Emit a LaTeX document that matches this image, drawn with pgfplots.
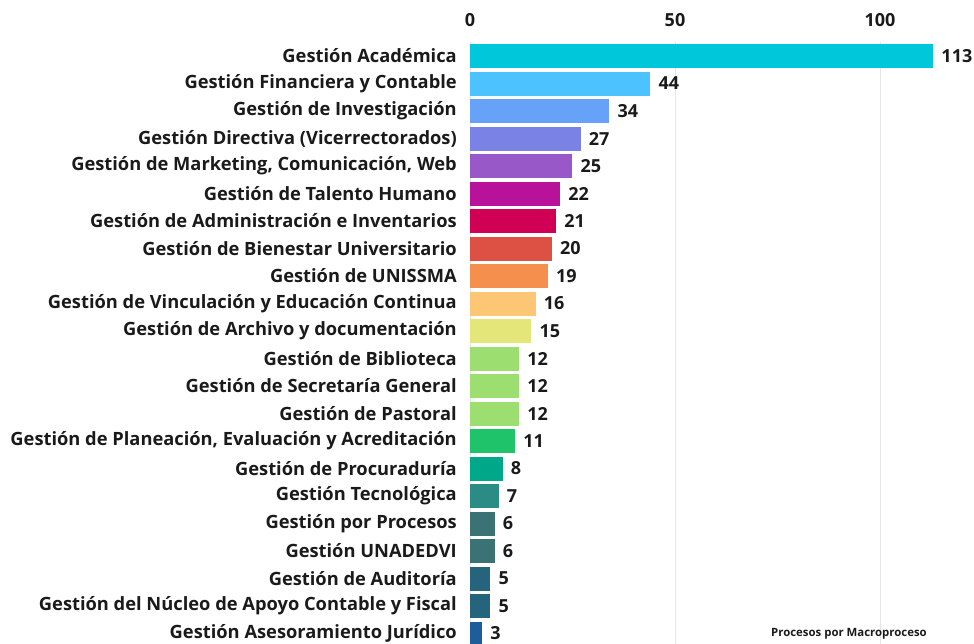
\documentclass[border=0pt]{standalone}
\usepackage{pgfplots}
\pgfplotsset{compat=1.18}
\usepackage{fontspec}
\setmainfont{Open Sans}
\definecolor{c1}{RGB}{0,200,218}
\definecolor{c2}{RGB}{76,195,255}
\definecolor{c3}{RGB}{102,163,248}
\definecolor{c4}{RGB}{122,130,230}
\definecolor{c5}{RGB}{152,88,200}
\definecolor{c6}{RGB}{184,18,154}
\definecolor{c7}{RGB}{208,0,85}
\definecolor{c8}{RGB}{221,80,68}
\definecolor{c9}{RGB}{245,143,78}
\definecolor{c10}{RGB}{253,198,116}
\definecolor{c11}{RGB}{229,230,122}
\definecolor{c12}{RGB}{156,222,111}
\definecolor{c15}{RGB}{31,196,106}
\definecolor{c16}{RGB}{0,168,138}
\definecolor{c17}{RGB}{42,140,132}
\definecolor{c18}{RGB}{59,114,118}
\definecolor{c20}{RGB}{38,100,126}
\definecolor{c22}{RGB}{31,93,154}
\definecolor{txt}{RGB}{26,26,26}
\begin{document}
\begin{tikzpicture}
\begin{axis}[
  anchor=origin, at={(0,0)},
  x=4.1bp, y=27.5bp,
  xmin=0, xmax=120,
  ymin=-0.5, ymax=21.5,
  y dir=reverse,
  xbar, bar shift=0pt, bar width=24bp,
  axis line style={draw=none},
  major tick length=0pt,
  xtick={0,50,100},
  xticklabel pos=upper,
  xmajorgrids=true,
  grid style={draw=black!10, line width=0.8pt},
  /pgf/number format/assume math mode=true,
  xticklabel style={font=\fontsize{18bp}{21bp}\selectfont\bfseries, text=txt, inner sep=0pt, anchor=south, yshift=15bp},
  ytick={0,...,21},
  yticklabels={{Gestión Académica},{Gestión Financiera y Contable},{Gestión de Investigación},{Gestión Directiva (Vicerrectorados)},{Gestión de Marketing, Comunicación, Web},{Gestión de Talento Humano},{Gestión de Administración e Inventarios},{Gestión de Bienestar Universitario},{Gestión de UNISSMA},{Gestión de Vinculación y Educación Continua},{Gestión de Archivo y documentación},{Gestión de Biblioteca},{Gestión de Secretaría General},{Gestión de Pastoral},{Gestión de Planeación, Evaluación y Acreditación},{Gestión de Procuraduría},{Gestión Tecnológica},{Gestión por Procesos},{Gestión UNADEDVI},{Gestión de Auditoría},{Gestión del Núcleo de Apoyo Contable y Fiscal},{Gestión Asesoramiento Jurídico}},
  yticklabel style={font=\fontsize{18.3bp}{21bp}\selectfont\bfseries, text=txt, inner sep=0pt, anchor=east, xshift=-13bp},
  nodes near coords,
  nodes near coords style={font=\fontsize{18bp}{21bp}\selectfont\bfseries, text=txt, inner sep=0pt, anchor=west, xshift=8bp},
  clip=false,
]
\addplot[fill=c1, draw=none] coordinates {(113,0)};
\addplot[fill=c2, draw=none] coordinates {(44,1)};
\addplot[fill=c3, draw=none] coordinates {(34,2)};
\addplot[fill=c4, draw=none] coordinates {(27,3)};
\addplot[fill=c5, draw=none] coordinates {(25,4)};
\addplot[fill=c6, draw=none] coordinates {(22,5)};
\addplot[fill=c7, draw=none] coordinates {(21,6)};
\addplot[fill=c8, draw=none] coordinates {(20,7)};
\addplot[fill=c9, draw=none] coordinates {(19,8)};
\addplot[fill=c10, draw=none] coordinates {(16,9)};
\addplot[fill=c11, draw=none] coordinates {(15,10)};
\addplot[fill=c12, draw=none] coordinates {(12,11)};
\addplot[fill=c12, draw=none] coordinates {(12,12)};
\addplot[fill=c12, draw=none] coordinates {(12,13)};
\addplot[fill=c15, draw=none] coordinates {(11,14)};
\addplot[fill=c16, draw=none] coordinates {(8,15)};
\addplot[fill=c17, draw=none] coordinates {(7,16)};
\addplot[fill=c18, draw=none] coordinates {(6,17)};
\addplot[fill=c18, draw=none] coordinates {(6,18)};
\addplot[fill=c20, draw=none] coordinates {(5,19)};
\addplot[fill=c20, draw=none] coordinates {(5,20)};
\addplot[fill=c22, draw=none] coordinates {(3,21)};
\end{axis}
\node[font=\fontsize{11.4bp}{13bp}\selectfont\bfseries, text=txt, inner sep=0pt] at (379bp,-578bp) {Procesos por Macroproceso};
\pgfresetboundingbox
\path[use as bounding box] (-470bp,-588bp) rectangle (504bp,56bp);
\end{tikzpicture}
\end{document}
